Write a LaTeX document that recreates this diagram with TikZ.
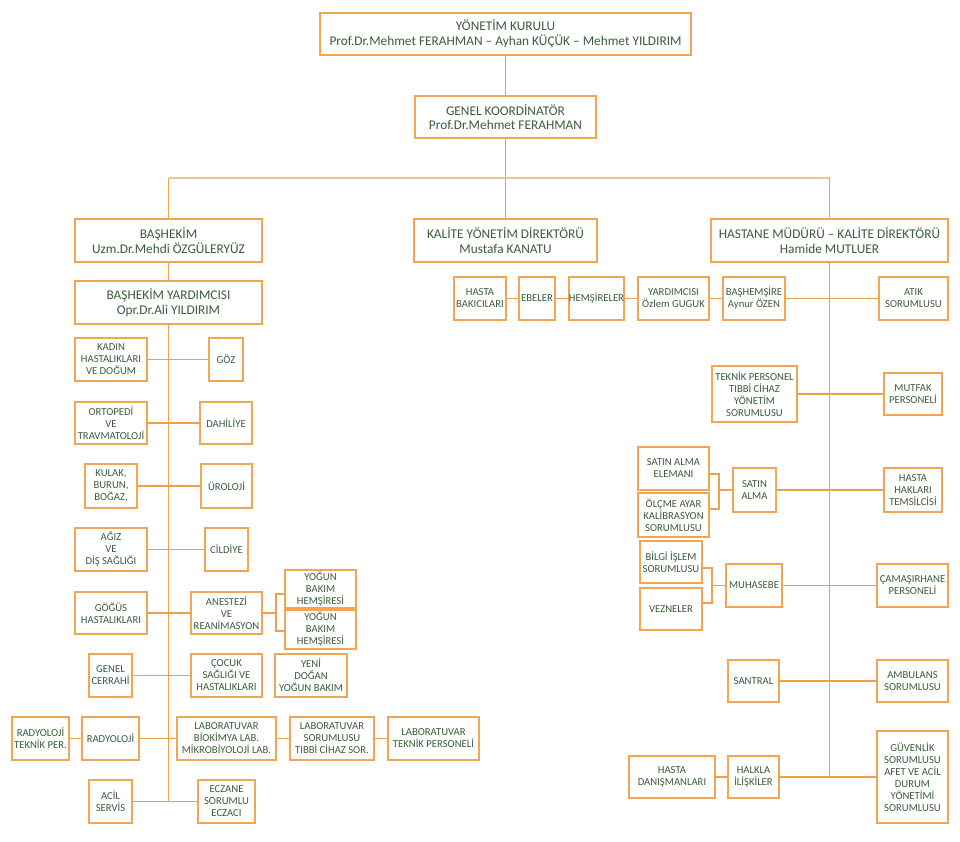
\documentclass[tikz,border=0pt]{standalone}
\usepackage{fontspec}
\setmainfont{Carlito}
\definecolor{boxc}{HTML}{F2A552}
\definecolor{linec}{HTML}{F0A04A}
\definecolor{lightc}{HTML}{F5C28C}
\definecolor{txt}{HTML}{3A5C3A}
\newcommand\bx[7][sm]{\node[#1,minimum width=\fpeval{(#4-#2)*0.75}pt,minimum height=\fpeval{(#5-#3)*0.75}pt] (#6) at ({(#2+#4)/2},{(#3+#5)/2}) {#7};}
\begin{document}
\begin{tikzpicture}[x=0.75pt,y=-0.75pt,
  sm/.style={draw=boxc,line width=1.05pt,inner sep=0pt,align=center,text=txt,font=\fontsize{8}{9}\selectfont},
  hd/.style={sm,font=\fontsize{10}{11}\selectfont},
  conn/.style={draw=linec,line width=0.95pt},
  topline/.style={draw=lightc,line width=1.6pt}]
\useasboundingbox (0,0) rectangle (960,842);
% top
\bx[hd]{320}{13}{691}{55}{yk}{YÖNETİM KURULU\\Prof.Dr.Mehmet FERAHMAN – Ayhan KÜÇÜK – Mehmet YILDIRIM}
\bx[hd]{415}{96}{596}{138}{gk}{GENEL KOORDİNATÖR\\Prof.Dr.Mehmet FERAHMAN}
\bx[hd]{75}{219}{262}{262}{bh}{BAŞHEKİM\\Uzm.Dr.Mehdi ÖZGÜLERYÜZ}
\bx[hd]{414}{219}{597}{262}{kal}{KALİTE YÖNETİM DİREKTÖRÜ\\Mustafa KANATU}
\bx[hd]{711}{219}{948}{262}{hm}{HASTANE MÜDÜRÜ – KALİTE DİREKTÖRÜ\\Hamide MUTLUER}
\bx[hd]{75}{281}{262}{324}{bhy}{BAŞHEKİM YARDIMCISI\\Opr.Dr.Ali YILDIRIM}
\coordinate (top) at (505.5,178);
\draw[conn] (yk.south) -- (gk.north);
\draw[conn] (gk.south) -- (top);
\draw[topline] (bh.north |- top) -- (hm.north |- top);
\draw[conn] (bh.north |- top) -- (bh.north);
\draw[conn] (top) -- (kal.north);
\draw[conn] (hm.north |- top) -- (hm.north);
\draw[conn] (bh.south) -- (bhy.north);
% left column
\bx{75}{338}{147}{381}{kadin}{KADIN\\HASTALIKLARI\\VE DOĞUM}
\bx{209}{338}{243}{381}{goz}{GÖZ}
\bx{75}{402}{147}{444}{ort}{ORTOPEDİ\\VE\\TRAVMATOLOJİ}
\bx{200}{402}{252}{444}{dah}{DAHİLİYE}
\bx{85}{464}{137}{508}{kbb}{KULAK,\\BURUN,\\BOĞAZ,}
\bx{201}{464}{252}{508}{uro}{ÜROLOJİ}
\bx{75}{528}{147}{571}{agiz}{AĞIZ\\VE\\DİŞ SAĞLIĞI}
\bx{205}{528}{248}{571}{cil}{CİLDİYE}
\bx{75}{592}{147}{634}{gog}{GÖĞÜS\\HASTALIKLARI}
\bx{191}{592}{262}{634}{ane}{ANESTEZİ\\VE\\REANİMASYON}
\bx{285}{570}{356}{608}{yb1}{YOĞUN\\BAKIM\\HEMŞİRESİ}
\bx{285}{610}{356}{649}{yb2}{YOĞUN\\BAKIM\\HEMŞİRESİ}
\bx{89}{654}{132}{697}{gc}{GENEL\\CERRAHİ}
\bx{191}{654}{262}{697}{coc}{ÇOCUK\\SAĞLIĞI VE\\HASTALIKLARI}
\bx{275}{654}{347}{697}{yd}{YENİ\\DOĞAN\\YOĞUN BAKIM}
\bx{12}{717}{69}{760}{rtp}{RADYOLOJİ\\TEKNİK PER.}
\bx{82}{717}{139}{760}{rad}{RADYOLOJİ}
\bx{177}{717}{276}{760}{lab1}{LABORATUVAR\\BİOKİMYA LAB.\\MİKROBİYOLOJİ LAB.}
\bx{290}{717}{374}{760}{lab2}{LABORATUVAR\\SORUMLUSU\\TIBBİ CİHAZ SOR.}
\bx{388}{717}{479}{760}{lab3}{LABORATUVAR\\TEKNİK PERSONELİ}
\bx{89}{780}{132}{823}{acil}{ACİL\\SERVİS}
\bx{198}{780}{255}{823}{ecz}{ECZANE\\SORUMLU\\ECZACI}
\coordinate (lsp) at (168.5,801.5);
\draw[conn] (bhy.south) -- (lsp);
\draw[conn] (kadin.east) -- (goz.west);
\draw[conn] (ort.east) -- (dah.west);
\draw[conn] (kbb.east) -- (uro.west);
\draw[conn] (agiz.east) -- (cil.west);
\draw[conn] (gog.east) -- (ane.west);
\coordinate (ab) at (276,613);
\coordinate (abt) at (276,594);
\coordinate (abb) at (276,631);
\draw[conn] (ane.east) -- (ab);
\draw[conn] (yb1.west |- abt) -- (abt) -- (abb) -- (yb2.west |- abb);
\draw[conn] (gc.east) -- (coc.west);
\draw[conn] (rtp.east) -- (rad.west);
\draw[conn] (rad.east) -- (lab1.west);
\draw[conn] (lab1.east) -- (lab2.west);
\draw[conn] (lab2.east) -- (lab3.west);
\draw[conn] (acil.east) -- (ecz.west);
% kalite row
\bx{454}{277}{506}{320}{hb}{HASTA\\BAKICILARI}
\bx{519}{277}{555}{320}{eb}{EBELER}
\bx{569}{277}{624}{320}{hem}{HEMŞİRELER}
\bx{638}{277}{709}{320}{yar}{YARDIMCISI\\Özlem GUGUK}
\bx{723}{277}{785}{320}{bas}{BAŞHEMŞİRE\\Aynur ÖZEN}
\bx{879}{277}{948}{320}{atik}{ATIK\\SORUMLUSU}
\draw[conn] (hb.east) -- (eb.west);
\draw[conn] (eb.east) -- (hem.west);
\draw[conn] (hem.east) -- (yar.west);
\draw[conn] (yar.east) -- (bas.west);
\draw[conn] (bas.east) -- (atik.west);
% right side
\bx{712}{366}{797}{422}{tek}{TEKNİK PERSONEL\\TIBBİ CİHAZ\\YÖNETİM\\SORUMLUSU}
\bx{884}{373}{942}{415}{mut}{MUTFAK\\PERSONELİ}
\bx{638}{447}{709}{490}{sae}{SATIN ALMA\\ELEMANI}
\bx{638}{493}{709}{537}{olc}{ÖLÇME AYAR\\KALİBRASYON\\SORUMLUSU}
\bx{733}{468}{776}{512}{sat}{SATIN\\ALMA}
\bx{884}{468}{942}{512}{hh}{HASTA\\HAKLARI\\TEMSİLCİSİ}
\bx{640}{541}{702}{583}{bil}{BİLGİ İŞLEM\\SORUMLUSU}
\bx{640}{588}{702}{630}{vez}{VEZNELER}
\bx{726}{564}{782}{607}{muh}{MUHASEBE}
\bx{877}{564}{948}{607}{cam}{ÇAMAŞIRHANE\\PERSONELİ}
\bx{728}{660}{779}{702}{san}{SANTRAL}
\bx{877}{660}{948}{702}{amb}{AMBULANS\\SORUMLUSU}
\bx{629}{756}{715}{798}{hd}{HASTA\\DANIŞMANLARI}
\bx{728}{756}{779}{798}{hal}{HALKLA\\İLİŞKİLER}
\bx{877}{731}{948}{823}{guv}{GÜVENLİK\\SORUMLUSU\\AFET VE ACİL\\DURUM\\YÖNETİMİ\\SORUMLUSU}
\coordinate (rsp) at (829.5,777);
\draw[conn] (hm.south) -- (rsp);
\draw[conn] (tek.east) -- (mut.west);
\coordinate (sbt) at (719,474);
\coordinate (sbb) at (719,509);
\coordinate (sbm) at (719,490);
\draw[conn] (sae.east |- sbt) -- (sbt) -- (sbb) -- (olc.east |- sbb);
\draw[conn] (sbm) -- (sat.west);
\draw[conn] (sat.east) -- (hh.west);
\coordinate (mbt) at (712,568);
\coordinate (mbb) at (712,603);
\coordinate (mbm) at (712,585.5);
\draw[conn] (bil.east |- mbt) -- (mbt) -- (mbb) -- (vez.east |- mbb);
\draw[conn] (mbm) -- (muh.west);
\draw[conn] (muh.east) -- (cam.west);
\draw[conn] (san.east) -- (amb.west);
\draw[conn] (hd.east) -- (hal.west);
\draw[conn] (hal.east) -- (guv.west);
\end{tikzpicture}
\end{document}
